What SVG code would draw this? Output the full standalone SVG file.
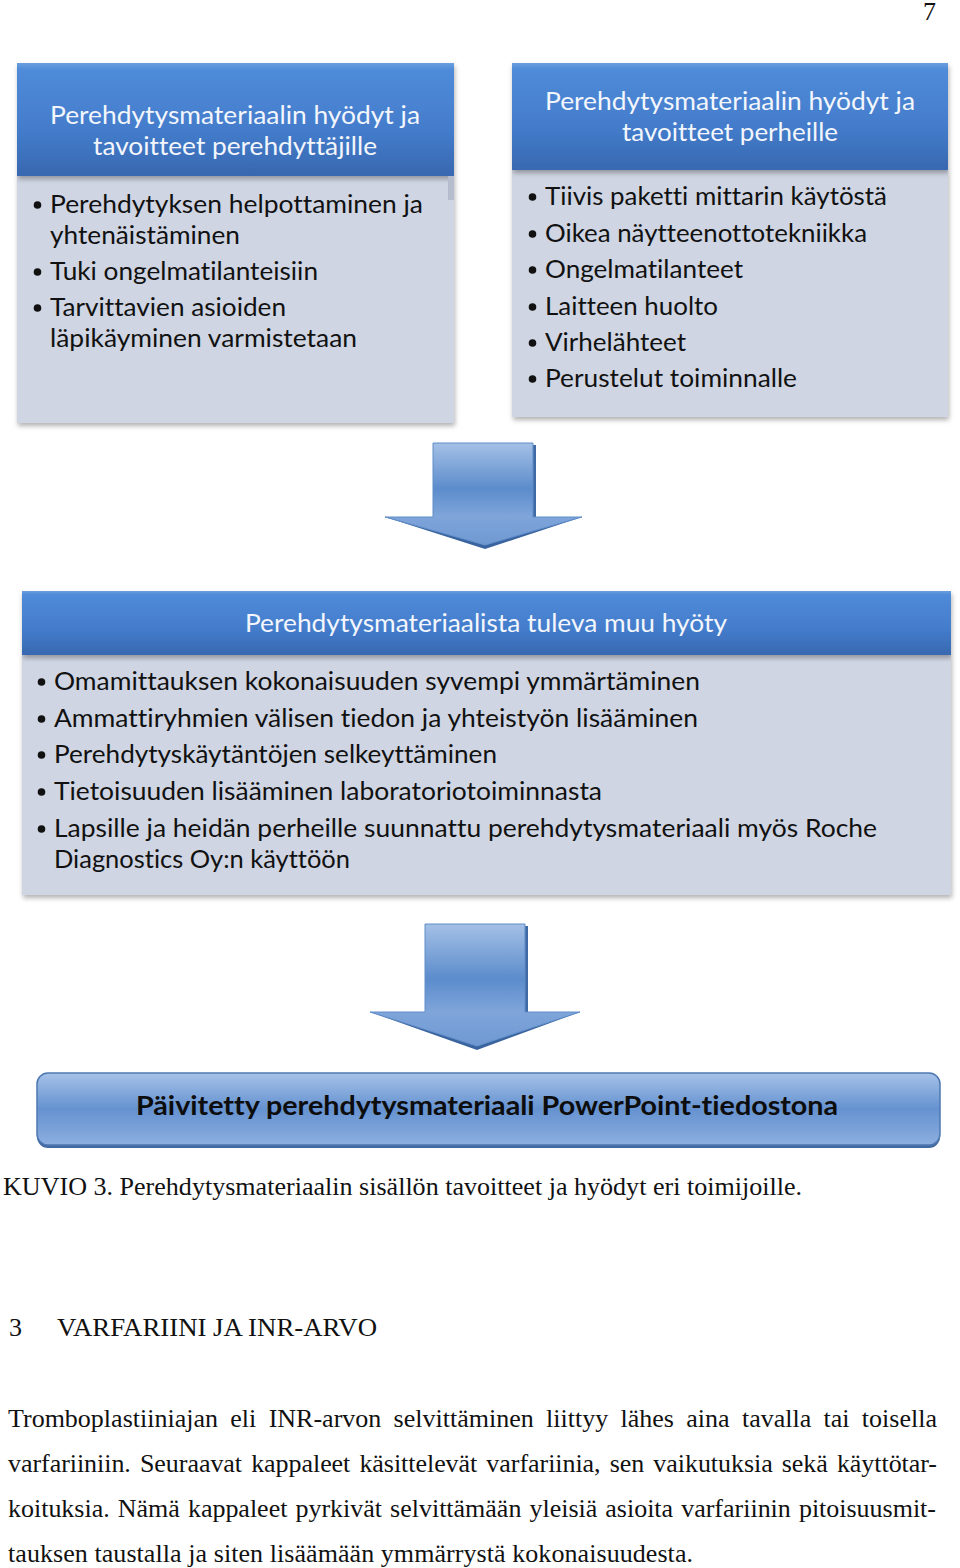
<svg xmlns="http://www.w3.org/2000/svg" width="960" height="1568" viewBox="0 0 960 1568">
<defs>
<linearGradient id="hdr" x1="0" y1="0" x2="0" y2="1">
<stop offset="0" stop-color="#6a9fe0"/><stop offset="0.06" stop-color="#4f8bd8"/><stop offset="0.6" stop-color="#437ccb"/><stop offset="1" stop-color="#3868b0"/>
</linearGradient>
<linearGradient id="arw" gradientUnits="objectBoundingBox" x1="0" y1="0" x2="0" y2="1">
<stop offset="0" stop-color="#a4c0e6"/><stop offset="0.45" stop-color="#5c8ccc"/><stop offset="0.72" stop-color="#7fa5da"/><stop offset="1" stop-color="#6f98d2"/>
</linearGradient>
<linearGradient id="pill" x1="0" y1="0" x2="0" y2="1">
<stop offset="0" stop-color="#a6c2e8"/><stop offset="0.5" stop-color="#6592d0"/><stop offset="1" stop-color="#8cafdf"/>
</linearGradient>
<filter id="sh" x="-5%" y="-5%" width="110%" height="115%">
<feDropShadow dx="1" dy="3" stdDeviation="2.5" flood-color="#000" flood-opacity="0.3"/>
</filter>
</defs>
<style>
.hd{font-family:Lato,"Open Sans","Liberation Sans",sans-serif;font-size:25px;fill:#f3f6fc;text-anchor:middle;font-variant-ligatures:none}
.bl{font-family:Lato,"Open Sans","Liberation Sans",sans-serif;font-size:25px;fill:#111;font-variant-ligatures:none}
.bd{font-family:Lato,"Open Sans","Liberation Sans",sans-serif;font-size:27px;font-weight:bold;fill:#0d0d0d;text-anchor:middle;font-variant-ligatures:none}
.tm{font-family:"Liberation Serif","Times New Roman",serif;font-size:26px;fill:#111}
.body{fill:#cfd5e2}
.hdr{fill:url(#hdr)}
.dot{fill:#111}
.edge{fill:#3a64a0}
</style>
<text class="tm" x="923" y="20" font-size="22">7</text>

<g id="box-perehdyttajat">
<rect class="body" x="17" y="176" width="437" height="247" filter="url(#sh)"/>
<rect class="hdr" x="17" y="63" width="437" height="113" filter="url(#sh)"/>
<rect x="448" y="176" width="6" height="24" fill="#b4bccd"/>
<text class="hd" x="235" y="124" textLength="370" lengthAdjust="spacingAndGlyphs">Perehdytysmateriaalin hyödyt ja</text>
<text class="hd" x="235" y="155" textLength="284" lengthAdjust="spacingAndGlyphs">tavoitteet perehdyttäjille</text>
<circle class="dot" cx="37.5" cy="205" r="3.8"/>
<text class="bl" x="50" y="213" textLength="373" lengthAdjust="spacingAndGlyphs">Perehdytyksen helpottaminen ja</text>
<text class="bl" x="50" y="244" textLength="190" lengthAdjust="spacingAndGlyphs">yhtenäistäminen</text>
<circle class="dot" cx="37.5" cy="272" r="3.8"/>
<text class="bl" x="50" y="280" textLength="268" lengthAdjust="spacingAndGlyphs">Tuki ongelmatilanteisiin</text>
<circle class="dot" cx="37.5" cy="308" r="3.8"/>
<text class="bl" x="50" y="316" textLength="236" lengthAdjust="spacingAndGlyphs">Tarvittavien asioiden</text>
<text class="bl" x="50" y="347" textLength="307" lengthAdjust="spacingAndGlyphs">läpikäyminen varmistetaan</text>
</g>

<g id="box-perheet">
<rect class="body" x="512" y="170" width="436" height="247" filter="url(#sh)"/>
<rect class="hdr" x="512" y="63" width="436" height="107" filter="url(#sh)"/>
<text class="hd" x="730" y="110" textLength="370" lengthAdjust="spacingAndGlyphs">Perehdytysmateriaalin hyödyt ja</text>
<text class="hd" x="730" y="141" textLength="216" lengthAdjust="spacingAndGlyphs">tavoitteet perheille</text>
<circle class="dot" cx="532.5" cy="197" r="3.8"/>
<text class="bl" x="545" y="205" textLength="342" lengthAdjust="spacingAndGlyphs">Tiivis paketti mittarin käytöstä</text>
<circle class="dot" cx="532.5" cy="234" r="3.8"/>
<text class="bl" x="545" y="242" textLength="322" lengthAdjust="spacingAndGlyphs">Oikea näytteenottotekniikka</text>
<circle class="dot" cx="532.5" cy="270" r="3.8"/>
<text class="bl" x="545" y="278" textLength="198" lengthAdjust="spacingAndGlyphs">Ongelmatilanteet</text>
<circle class="dot" cx="532.5" cy="307" r="3.8"/>
<text class="bl" x="545" y="315" textLength="173" lengthAdjust="spacingAndGlyphs">Laitteen huolto</text>
<circle class="dot" cx="532.5" cy="343" r="3.8"/>
<text class="bl" x="545" y="351" textLength="141" lengthAdjust="spacingAndGlyphs">Virhelähteet</text>
<circle class="dot" cx="532.5" cy="379" r="3.8"/>
<text class="bl" x="545" y="387" textLength="252" lengthAdjust="spacingAndGlyphs">Perustelut toiminnalle</text>
</g>

<g id="box-muu-hyoty">
<rect class="body" x="22" y="655" width="929" height="240" filter="url(#sh)"/>
<rect class="hdr" x="22" y="591" width="929" height="64" filter="url(#sh)"/>
<text class="hd" x="486" y="632" textLength="482" lengthAdjust="spacingAndGlyphs">Perehdytysmateriaalista tuleva muu hyöty</text>
<circle class="dot" cx="41.5" cy="682" r="3.8"/>
<text class="bl" x="54" y="690" textLength="646" lengthAdjust="spacingAndGlyphs">Omamittauksen kokonaisuuden syvempi ymmärtäminen</text>
<circle class="dot" cx="41.5" cy="719" r="3.8"/>
<text class="bl" x="54" y="727" textLength="644" lengthAdjust="spacingAndGlyphs">Ammattiryhmien välisen tiedon ja yhteistyön lisääminen</text>
<circle class="dot" cx="41.5" cy="755" r="3.8"/>
<text class="bl" x="54" y="763" textLength="443" lengthAdjust="spacingAndGlyphs">Perehdytyskäytäntöjen selkeyttäminen</text>
<circle class="dot" cx="41.5" cy="792" r="3.8"/>
<text class="bl" x="54" y="800" textLength="548" lengthAdjust="spacingAndGlyphs">Tietoisuuden lisääminen laboratoriotoiminnasta</text>
<circle class="dot" cx="41.5" cy="829" r="3.8"/>
<text class="bl" x="54" y="837" textLength="823" lengthAdjust="spacingAndGlyphs">Lapsille ja heidän perheille suunnattu perehdytysmateriaali myös Roche</text>
<text class="bl" x="54" y="868" textLength="296" lengthAdjust="spacingAndGlyphs">Diagnostics Oy:n käyttöön</text>
</g>

<g id="connectors">
<g id="arrow-1">
<path class="edge" d="M385 517 L485 549 L582 517 L578 517 L485 545 L389 517 Z"/>
<rect x="533" y="445" width="3" height="72" fill="#3f6aa6"/>
<path d="M433 443 H533 V517 H582 L485 545 L385 517 H433 Z" fill="url(#arw)" stroke="#5f8dc8" stroke-width="1"/>
</g>
<g id="arrow-2">
<path class="edge" d="M370 1012 L477 1050 L580 1012 L576 1012 L477 1046 L374 1012 Z"/>
<rect x="525" y="926" width="3" height="86" fill="#3f6aa6"/>
<path d="M425 924 H525 V1012 H580 L477 1046 L370 1012 H425 Z" fill="url(#arw)" stroke="#5f8dc8" stroke-width="1"/>
</g>
</g>

<g id="box-powerpoint">
<rect x="37" y="1075" width="903" height="73" rx="11" fill="#2f5a96" opacity="0.9"/>
<rect x="37" y="1073" width="903" height="72" rx="11" fill="url(#pill)" stroke="#4f78b2" stroke-width="1.5"/>
<text class="bd" x="487" y="1115" textLength="702" lengthAdjust="spacingAndGlyphs">Päivitetty perehdytysmateriaali PowerPoint-tiedostona</text>
</g>

<text class="tm" x="3" y="1195" textLength="799" lengthAdjust="spacingAndGlyphs">KUVIO 3. Perehdytysmateriaalin sisällön tavoitteet ja hyödyt eri toimijoille.</text>

<text class="tm" x="9" y="1336">3</text>
<text class="tm" x="57" y="1336" textLength="320" lengthAdjust="spacingAndGlyphs">VARFARIINI JA INR-ARVO</text>

<text class="tm" x="8" y="1427" word-spacing="5.8" textLength="929" lengthAdjust="spacing">Tromboplastiiniajan eli INR-arvon selvittäminen liittyy lähes aina tavalla tai toisella</text>
<text class="tm" x="8" y="1472" word-spacing="2.7" textLength="929" lengthAdjust="spacing">varfariiniin. Seuraavat kappaleet käsittelevät varfariinia, sen vaikutuksia sekä käyttötar-</text>
<text class="tm" x="8" y="1517" word-spacing="1.6" textLength="928" lengthAdjust="spacing">koituksia. Nämä kappaleet pyrkivät selvittämään yleisiä asioita varfariinin pitoisuusmit-</text>
<text class="tm" x="8" y="1562" textLength="685" lengthAdjust="spacing">tauksen taustalla ja siten lisäämään ymmärrystä kokonaisuudesta.</text>
</svg>
